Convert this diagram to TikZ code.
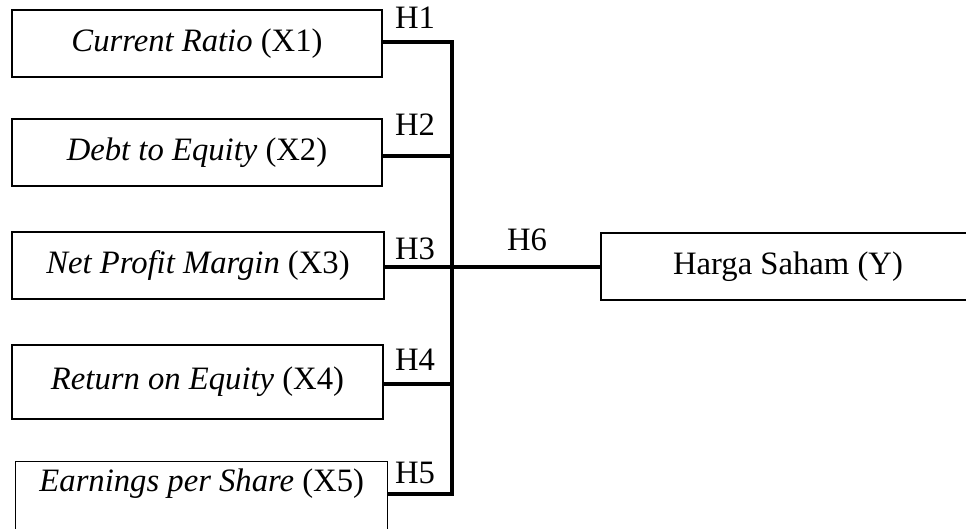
\documentclass[tikz,border=0pt]{standalone}
\usepackage{fontspec}
\setmainfont{Liberation Serif}
\begin{document}
\begin{tikzpicture}[x=0.75pt,y=-0.75pt,
  varbox/.style={draw, line width=1.1pt, inner sep=0pt, minimum height=50.25pt, align=center,
    font=\fontsize{24.5}{29}\selectfont},
  hlab/.style={font=\fontsize{24.5}{29}\selectfont, inner sep=0pt},
  conn/.style={line width=2.3pt}]
\useasboundingbox (0,0) rectangle (966,528);
\clip (0,0) rectangle (966,528);
\node[varbox, minimum width=277.5pt] (B1) at (197,43.5) {\textit{Current Ratio} (X1)};
\node[varbox, minimum width=277.5pt] (B2) at (197,152.5) {\textit{Debt to Equity} (X2)};
\node[varbox, minimum width=279pt] (B3) at (198,265.5) {\textit{Net Profit Margin} (X3)};
\node[varbox, minimum width=278.25pt, minimum height=55.5pt] (B4) at (197.5,382) {\textit{Return on Equity} (X4)};
\node[varbox, minimum width=279pt, minimum height=0pt, inner ysep=4.5pt, text height=18pt, text depth=40pt, anchor=north west] (B5) at (15,461) {\textit{Earnings per Share} (X5)};
\node[varbox, minimum width=280.5pt] (BY) at (788,266.5) {Harga Saham (Y)};
\coordinate (j1) at (452,42);
\coordinate (j2) at (452,156);
\coordinate (j3) at (452,267);
\coordinate (j4) at (452,384);
\coordinate (j5) at (452,494);
\draw[conn] (B1.east |- j1) -- (j1) -- (j5) -- (B5.east |- j5);
\draw[conn] (B2.east |- j2) -- (j2);
\draw[conn] (B3.east |- j3) -- (j3);
\draw[conn] (B4.east |- j4) -- (j4);
\draw[conn] (j3) -- (BY.west |- j3);
\node[hlab] (h1) at (415,18) {H1};
\node[hlab] (h2) at (415,125) {H2};
\node[hlab] (h3) at (415,249) {H3};
\node[hlab] (h4) at (415,360) {H4};
\node[hlab] (h5) at (415,473) {H5};
\node[hlab] (h6) at (527,240) {H6};
\end{tikzpicture}
\end{document}
